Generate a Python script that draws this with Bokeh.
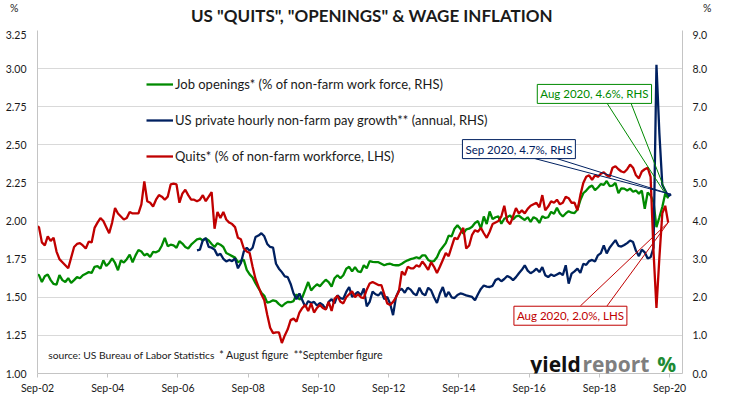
import html
import numpy as np
from bokeh.plotting import figure
from bokeh.layouts import column
from bokeh.models import (Range1d, LinearAxis, FixedTicker, NumeralTickFormatter,
                          Label, Legend, LegendItem, Div)
from bokeh.embed import file_html
from bokeh.resources import INLINE

# ---------------- data ----------------
TITLE = 'US "QUITS", "OPENINGS" & WAGE INFLATION'
X_TICK_LABELS = ["Sep-02", "Sep-04", "Sep-06", "Sep-08", "Sep-10",
                 "Sep-12", "Sep-14", "Sep-16", "Sep-18", "Sep-20"]
LEFT_TICKS = [1.00, 1.25, 1.50, 1.75, 2.00, 2.25, 2.50, 2.75, 3.00, 3.25]
RIGHT_TICKS = [0, 1, 2, 3, 4, 5, 6, 7, 8, 9]
UNIT_LABEL = "%"

# Quits rate, % of non-farm workforce (LHS), monthly Aug 2002 - Aug 2020
QUITS_START = (2002, 8)
QUITS = [
    1.97, 1.96, 1.86, 1.84, 1.90,                                          # 2002 Aug-Dec
    1.87, 1.89, 1.80, 1.75, 1.73, 1.71, 1.69, 1.76, 1.83, 1.85, 1.855, 1.84,  # 2003
    1.82, 1.865, 1.86, 1.955, 1.99, 2.02, 2.00, 1.96, 1.92, 1.99, 2.085, 2.05,  # 2004
    2.03, 2.01, 2.02, 2.06, 2.05, 2.05, 2.05, 2.11, 2.26, 2.13, 2.12, 2.095,  # 2005
    2.14, 2.17, 2.16, 2.14, 2.16, 2.24, 2.245, 2.24, 2.12, 2.18, 2.205, 2.17,  # 2006
    2.14, 2.14, 2.13, 2.14, 2.17, 2.13, 2.16, 2.19, 1.95, 2.06, 2.02, 2.06,  # 2007
    2.01, 1.99, 1.98, 1.96, 1.89, 1.88, 1.82, 1.80, 1.79, 1.70, 1.62, 1.57,  # 2008
    1.52, 1.48, 1.385, 1.30, 1.265, 1.27, 1.27, 1.20, 1.25, 1.29, 1.35, 1.36,  # 2009
    1.34, 1.40, 1.43, 1.45, 1.41, 1.46, 1.40, 1.43, 1.45, 1.43, 1.42, 1.47,  # 2010
    1.41, 1.49, 1.51, 1.47, 1.46, 1.50, 1.52, 1.54, 1.50, 1.52, 1.50, 1.495,  # 2011
    1.55, 1.59, 1.60, 1.59, 1.58, 1.58, 1.52, 1.46, 1.45, 1.47, 1.50, 1.54,  # 2012
    1.67, 1.645, 1.70, 1.69, 1.69, 1.71, 1.70, 1.735, 1.71, 1.68, 1.73, 1.70,  # 2013
    1.66, 1.70, 1.745, 1.79, 1.77, 1.83, 1.89, 1.88, 1.92, 1.955, 1.82, 1.84,  # 2014
    1.91, 1.94, 1.93, 1.955, 1.92, 1.89, 1.93, 1.98, 1.99, 2.00, 2.03, 2.10,  # 2015
    2.00, 1.98, 2.03, 2.085, 2.05, 2.07, 2.05, 2.08, 2.10, 2.11, 2.12, 2.09,  # 2016
    2.17, 2.07, 2.095, 2.13, 2.12, 2.14, 2.11, 2.12, 2.16, 2.15, 2.12, 2.12,  # 2017
    2.07, 2.17, 2.25, 2.29, 2.30, 2.27, 2.30, 2.29, 2.31, 2.32, 2.30, 2.29,  # 2018
    2.35, 2.36, 2.34, 2.325, 2.32, 2.34, 2.37, 2.35, 2.30, 2.28, 2.325, 2.34,  # 2019
    2.35, 2.29, 1.80, 1.43, 1.76, 2.05, 2.10, 1.99,                        # 2020 Jan-Aug
]

# Job openings rate, % of non-farm work force (RHS), monthly Aug 2002 - Aug 2020
OPENINGS_START = (2002, 8)
OPENINGS = [
    2.60, 2.58, 2.40, 2.55, 2.60,
    2.45, 2.35, 2.33, 2.58, 2.45, 2.40, 2.50, 2.38, 2.45, 2.53, 2.50, 2.58,
    2.62, 2.66, 2.64, 2.80, 2.82, 2.75, 2.97, 2.82, 2.90, 3.02, 2.90, 2.71,
    2.97, 2.91, 3.00, 3.12, 2.92, 3.10, 3.24, 3.20, 3.10, 3.14, 3.06, 3.19,
    3.18, 3.22, 3.36, 3.56, 3.34, 3.38, 3.36, 3.30, 3.47, 3.41, 3.32, 3.28,
    3.38, 3.45, 3.52, 3.54, 3.49, 3.54, 3.49, 3.40, 3.32, 3.42, 3.38, 3.32,
    3.16, 3.12, 3.08, 3.04, 2.92, 2.96, 2.98, 2.72, 2.60, 2.52, 2.37, 2.24,
    2.12, 2.04, 1.86, 1.88, 1.92, 1.90, 1.82, 1.76, 1.83, 1.88, 1.87, 1.90,
    2.08, 1.94, 2.00, 2.20, 2.40, 2.18, 2.27, 2.34, 2.29, 2.38, 2.46, 2.40,
    2.28, 2.50, 2.58, 2.50, 2.58, 2.75, 2.80, 2.68, 2.79, 2.68, 2.66, 2.84,
    2.76, 2.95, 2.93, 2.92, 2.92, 2.88, 2.84, 2.87, 2.88, 2.85, 2.84, 2.84,
    2.88, 2.93, 2.97, 3.00, 3.02, 3.05, 3.02, 3.10, 3.10, 2.98, 2.94, 2.95,
    3.05, 3.22, 3.32, 3.42, 3.62, 3.60, 3.80, 3.89, 3.80, 3.67, 3.78, 3.80,
    3.85, 3.95, 4.00, 3.80, 4.12, 3.92, 4.25, 4.05, 4.10, 4.12, 3.93, 4.06,
    4.10, 4.15, 4.04, 4.12, 4.14, 4.08, 4.03, 4.10, 3.98, 4.10, 4.06, 3.95,
    4.13, 4.08, 4.10, 4.24, 4.19, 4.35, 4.20, 4.12, 4.20, 4.26, 4.22, 4.21,
    4.30, 4.55, 4.73, 4.80, 4.89, 4.93, 4.81, 4.88, 4.97, 4.95, 5.05, 4.92,
    4.93, 5.00, 4.73, 4.86, 4.85, 4.80, 4.85, 4.77, 4.80, 4.72, 4.80, 4.32,
    4.75, 4.67, 4.50, 3.84, 4.10, 4.37, 4.72, 4.60,
]

# Private hourly non-farm pay growth, % annual (RHS), monthly Mar 2007 - Sep 2020
WAGES_START = (2007, 3)
WAGES = [
    3.23, 3.25, 3.50, 3.55, 3.32, 3.30, 3.25, 3.10, 3.14, 3.01,            # 2007 Mar-Dec
    2.94, 2.98, 2.95, 3.02, 2.76, 2.90, 3.20, 3.30, 3.22, 3.30, 3.58, 3.62,  # 2008
    3.68, 3.60, 3.40, 3.32, 3.30, 2.88, 2.75, 2.66, 2.55, 2.53, 2.35, 2.10,  # 2009
    1.95, 2.10, 1.92, 1.75, 1.90, 1.85, 1.88, 1.78, 1.85, 1.80, 1.68, 1.88,  # 2010
    1.95, 1.84, 2.05, 1.98, 1.96, 2.14, 2.27, 2.01, 2.08, 2.14, 2.05, 2.23,  # 2011
    1.76, 1.88, 2.15, 2.08, 2.05, 2.14, 1.95, 2.01, 1.83, 1.53, 2.01, 2.18,  # 2012
    2.22, 2.12, 2.25, 2.20, 2.10, 2.05, 2.25, 2.10, 2.05, 2.25, 2.18, 2.00,  # 2013
    1.85, 2.10, 2.27, 2.01, 2.14, 2.00, 1.98, 2.06, 2.10, 2.08, 2.05, 2.03,  # 2014
    2.01, 1.92, 2.08, 2.22, 2.31, 2.28, 2.27, 2.30, 2.45, 2.49, 2.42, 2.48,  # 2015
    2.56, 2.52, 2.45, 2.53, 2.63, 2.72, 2.84, 2.70, 2.63, 2.68, 2.75, 2.66,  # 2016
    2.79, 2.58, 2.53, 2.60, 2.56, 2.60, 2.64, 2.58, 2.84, 2.36, 2.62, 2.68,  # 2017
    2.75, 2.64, 2.88, 2.85, 2.95, 2.98, 2.94, 3.10, 3.16, 3.36, 3.15, 3.30,  # 2018
    3.40, 3.50, 3.35, 3.33, 3.37, 3.42, 3.49, 3.45, 3.22, 3.08, 3.25, 3.18,  # 2019
    3.02, 3.05, 3.30, 8.10, 6.30, 4.95, 4.80, 4.65, 4.70,                  # 2020 Jan-Sep
]

LEGEND_LABELS = ["Job openings* (% of non-farm work force, RHS)",
                 "US private hourly non-farm pay growth** (annual, RHS)",
                 "Quits* (% of non-farm workforce, LHS)"]
CALLOUT_OPEN = "Aug 2020, 4.6%, RHS"
CALLOUT_WAGE = "Sep 2020, 4.7%, RHS"
CALLOUT_QUIT = "Aug 2020, 2.0%, LHS"
NB = "\u00a0"
SOURCE = "source: US Bureau of Labor Statistics"
FOOTNOTE = "* August figure" + NB * 2 + "**September figure"

# ---------------- styling ----------------
RED = "#C00000"
GREEN = "#008A00"
NAVY = "#002060"
GRID = "#D9D9D9"
AXIS = "#C4C4C4"
TXT = "#1a1a1a"
FONT = "Lato"
LOGO_FONT = "Open Sans"


def month_positions(start, n):
    """x position (months after Sep 2002, mid-month) for n monthly values."""
    y0, m0 = start
    first = (y0 - 2002) * 12 + (m0 - 9) + 0.5
    return list(np.arange(n) + first)


xq = month_positions(QUITS_START, len(QUITS))
xo = month_positions(OPENINGS_START, len(OPENINGS))
xw = month_positions(WAGES_START, len(WAGES))

# header strip: title and the "%" unit markers above the two value axes
header_html = (
    f'<div style="position:relative;width:731px;height:30px;font-family:{FONT};color:{TXT};">'
    f'<span style="position:absolute;left:10px;top:2px;font-size:10.5px;line-height:12px;">{UNIT_LABEL}</span>'
    f'<span style="position:absolute;left:191px;top:6px;font-size:17px;line-height:20px;'
    f'font-weight:bold;white-space:nowrap;">{html.escape(TITLE)}</span>'
    f'<span style="position:absolute;left:703px;top:2px;font-size:10.5px;line-height:12px;">{UNIT_LABEL}</span>'
    '</div>'
)
header = Div(text=header_html, width=731, height=30, margin=0)

p = figure(width=731, height=369, output_backend="svg", toolbar_location=None,
           title_location=None,
           x_range=Range1d(0, 220.4), y_range=Range1d(1.0, 3.25),
           min_border_left=37, min_border_right=49, min_border_top=0,
           min_border_bottom=26, margin=0)
p.extra_y_ranges = {"rhs": Range1d(0, 9)}
p.outline_line_color = None
p.background_fill_color = "white"

# x axis
xt = [i * 24 for i in range(len(X_TICK_LABELS))]
p.xaxis.ticker = FixedTicker(ticks=xt)
p.xaxis.major_label_overrides = {t: lab for t, lab in zip(xt, X_TICK_LABELS)}
p.xaxis.axis_line_color = AXIS
p.xaxis.major_tick_line_color = AXIS
p.xaxis.major_tick_out = 4
p.xaxis.major_tick_in = 0
p.xaxis.minor_tick_line_color = None
p.xaxis.major_label_standoff = 4
p.xaxis.major_label_text_font = FONT
p.xaxis.major_label_text_font_size = "10.5px"
p.xaxis.major_label_text_color = TXT

# left axis
p.yaxis.ticker = FixedTicker(ticks=LEFT_TICKS)
p.yaxis.formatter = NumeralTickFormatter(format="0.00")
p.yaxis.axis_line_color = AXIS
p.yaxis.major_tick_line_color = None
p.yaxis.minor_tick_line_color = None
p.yaxis.major_tick_out = 0
p.yaxis.major_label_standoff = 11
p.yaxis.major_label_text_font = FONT
p.yaxis.major_label_text_font_size = "10.5px"
p.yaxis.major_label_text_color = TXT

# right axis
ra = LinearAxis(y_range_name="rhs", ticker=FixedTicker(ticks=RIGHT_TICKS),
                formatter=NumeralTickFormatter(format="0.0"))
ra.axis_line_color = AXIS
ra.major_tick_line_color = None
ra.minor_tick_line_color = None
ra.major_tick_out = 0
ra.major_label_standoff = 10
ra.major_label_text_font = FONT
ra.major_label_text_font_size = "10.5px"
ra.major_label_text_color = TXT
p.add_layout(ra, "right")

p.xgrid.visible = False
p.ygrid.ticker = FixedTicker(ticks=LEFT_TICKS)
p.ygrid.grid_line_color = GRID
p.ygrid.grid_line_width = 1

# series
g_open = p.line(xo, OPENINGS, color=GREEN, line_width=2.3, y_range_name="rhs")
g_wage = p.line(xw, WAGES, color=NAVY, line_width=2.3, y_range_name="rhs")
g_quit = p.line(xq, QUITS, color=RED, line_width=2.3)

legend = Legend(items=[LegendItem(label=LEGEND_LABELS[0], renderers=[g_open]),
                       LegendItem(label=LEGEND_LABELS[1], renderers=[g_wage]),
                       LegendItem(label=LEGEND_LABELS[2], renderers=[g_quit])],
                location=(109, 209), orientation="vertical",
                glyph_width=27, glyph_height=16, label_height=16, spacing=20,
                padding=0, margin=0, label_standoff=2,
                border_line_alpha=0, background_fill_alpha=0,
                label_text_font=FONT, label_text_font_size="13px",
                label_text_color=TXT)
p.add_layout(legend)

# callout leader lines (box edge -> last data point)
p.segment(x0=[194.6, 202.8], y0=[7.094, 7.094], x1=[xo[-1]] * 2, y1=[OPENINGS[-1]] * 2,
          line_color=GREEN, line_width=1, y_range_name="rhs")
p.segment(x0=[170.1, 177.6], y0=[5.636, 5.636], x1=[xw[-1]] * 2, y1=[WAGES[-1]] * 2,
          line_color=NAVY, line_width=1, y_range_name="rhs")
p.segment(x0=[185.5, 194.6], y0=[1.443, 1.443], x1=[xq[-1]] * 2, y1=[QUITS[-1]] * 2,
          line_color=RED, line_width=1)


def callout(x, y, text, color):
    p.add_layout(Label(x=x, y=y, text=text, text_align="center", text_baseline="middle",
                       text_color=color, text_font=FONT, text_font_size="11.5px",
                       border_line_color=color, border_line_width=1,
                       background_fill_color="white", padding=3))


callout(190.3, 2.834, CALLOUT_OPEN, GREEN)
callout(164.5, 2.472, CALLOUT_WAGE, NAVY)
callout(182.1, 1.379, CALLOUT_QUIT, RED)

# source note and footnotes
p.add_layout(Label(x=3.66, y=1.119, text=SOURCE, text_align="left", text_baseline="middle",
                   text_font=FONT, text_font_size="10.3px", text_color=TXT))
p.add_layout(Label(x=62.1, y=1.119, text=FOOTNOTE, text_align="left", text_baseline="middle",
                   text_font=FONT, text_font_size="10.6px", text_color=TXT))

# logo
p.add_layout(Label(x=168.4, y=1.065, text="yield", text_align="left", text_baseline="alphabetic",
                   text_font=LOGO_FONT, text_font_style="bold", text_font_size="21px",
                   text_color="#111111"))
p.add_layout(Label(x=186.2, y=1.065, text="report", text_align="left", text_baseline="alphabetic",
                   text_font=LOGO_FONT, text_font_style="bold", text_font_size="21px",
                   text_color="#7F7F7F"))
p.add_layout(Label(x=211.8, y=1.065, text="%", text_align="left", text_baseline="alphabetic",
                   text_font=LOGO_FONT, text_font_style="bold", text_font_size="21px",
                   text_color="#1E8B34"))

layout = column(header, p, spacing=0, margin=0)
open("out.html", "w").write(file_html(layout, INLINE))
